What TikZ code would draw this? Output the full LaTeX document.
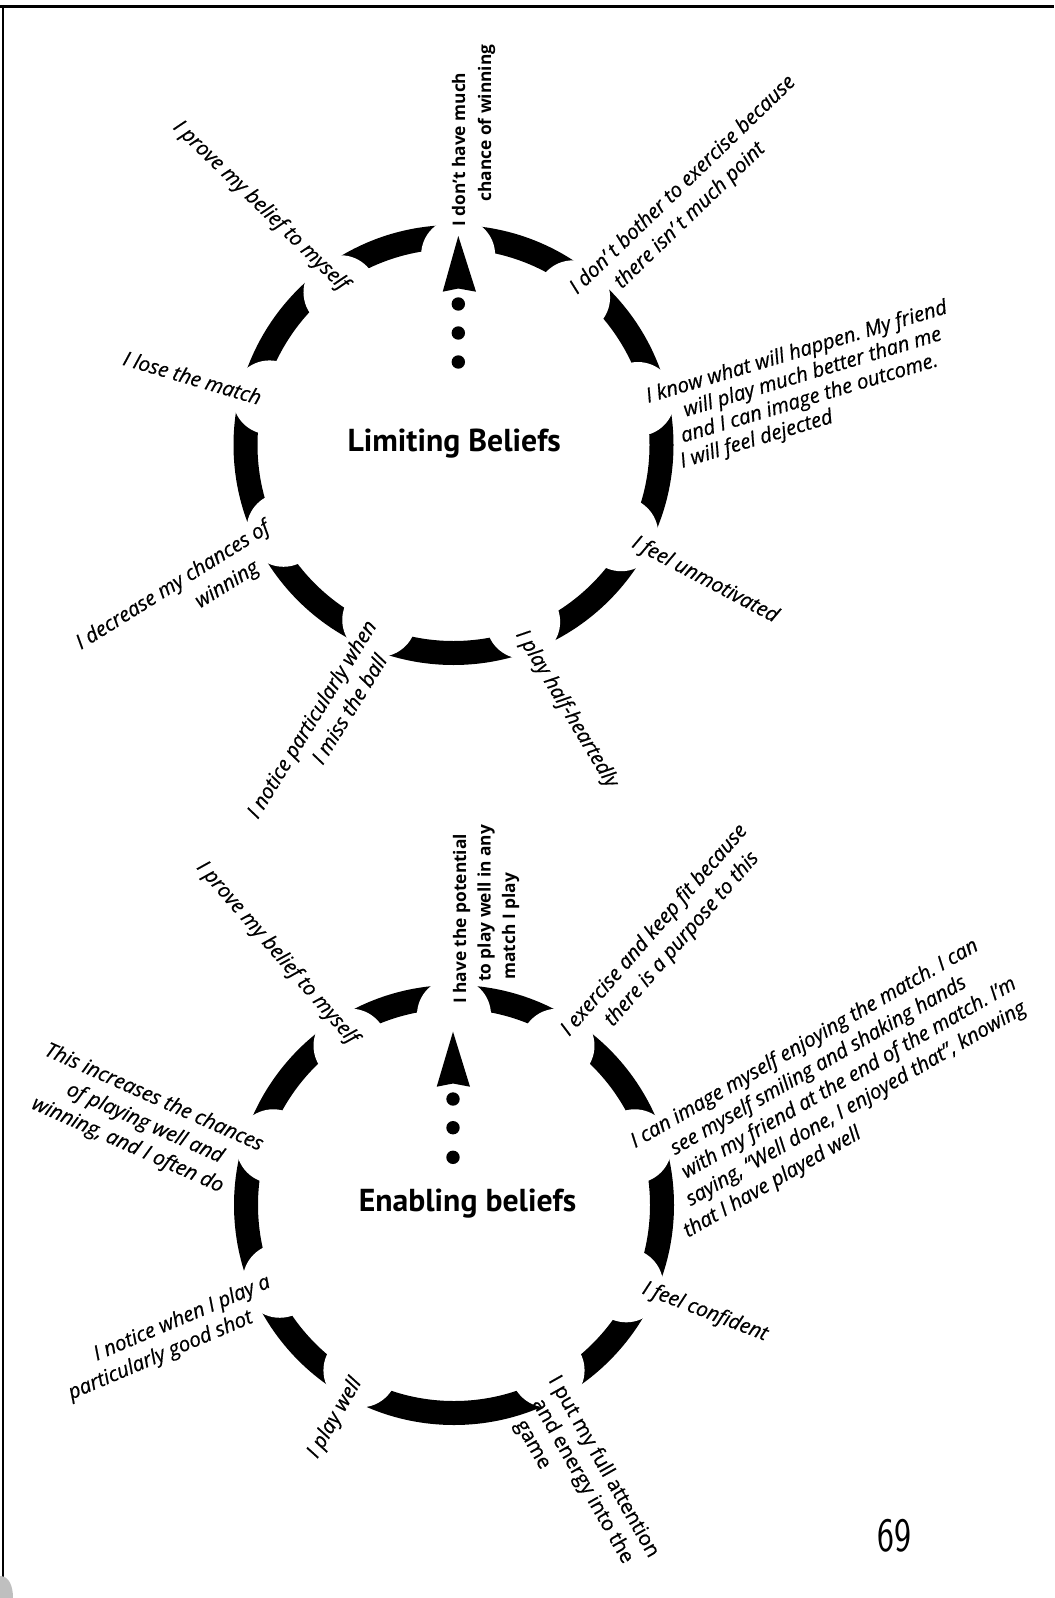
\documentclass[tikz,border=0pt]{standalone}
\usepackage{fontspec}
\usepackage{graphicx}
\usetikzlibrary{calc}
\newfontfamily\opensans{Open Sans}
\newfontfamily\labfont{Open Sans}[FakeBold=0.6]
\newfontfamily\ptsans{PT Sans}
\newdimen\pxu \pxu=0.75pt
\newcommand\labrows[1]{\begin{tabular}[t]{@{}l@{}}#1\end{tabular}}
\newcommand\indpx[1]{\hspace*{#1\pxu}}
\tikzset{
  ringband/.style={fill=black, even odd rule},
  gapcut/.style={fill=white},
  pointer/.style={fill=black},
  lbl/.style={font=\labfont\itshape\fontsize{15.3pt}{#1}\selectfont, inner sep=0pt, anchor=base west},
  lbl/.default=19.5pt,
  uplbl/.style={font=\labfont\fontsize{15.3pt}{#1}\selectfont, inner sep=0pt, anchor=base west},
  lblone/.style={font=\labfont\itshape\fontsize{15.3pt}{18pt}\selectfont, inner sep=0pt, anchor=center},
  keylbl/.style={font=\opensans\bfseries\fontsize{13pt}{#1}\selectfont, inner sep=0pt, anchor=base west},
  titlelbl/.style={font=\ptsans\bfseries\fontsize{23.8pt}{28pt}\selectfont, inner sep=0pt, anchor=base},
  pagenum/.style={font=\sffamily\fontsize{36pt}{40pt}\selectfont, inner sep=0pt},
}
\begin{document}
\frenchspacing
\begin{tikzpicture}[x=0.75pt,y=-0.75pt]
\fill[white] (0,0) rectangle (1054,1598);
\useasboundingbox (0,0) rectangle (1054,1598);

% page rules
\draw[line width=3.5\pxu] (0,6.5) -- (1054,6.5);
\draw[line width=2\pxu] (2.5,5) -- (2.5,1580);
\fill[gray!50] (0,1598) -- (0,1576) .. controls (9,1576) and (13,1586) .. (13,1598) -- cycle;

% ---------- upper cycle ----------
\coordinate (limC) at (453.5,445);
\fill[ringband] (limC) circle[radius=220] (limC) circle[radius=196];
\foreach \a in {88.6,51,14,-28,-68.5,-113,-153.5,165.5,126.5}
  \fill[gapcut] ($(limC)+({190*cos(\a)},{-190*sin(\a)})$) circle[radius=37];
\fill[pointer] (458.3,236) -- (476,291.7) -- (458.3,288.5) -- (442.7,291.7) -- cycle;
\foreach \y in {304,333,362}
  \fill[pointer] (458.3,\y) circle[radius=6.7];

\node[titlelbl] (limTitle) at (454.2,451.7) {Limiting Beliefs};

\node[keylbl=19.5pt, rotate=90] (limTop) at (465,227)
  {\labrows{I don’t have much\\\indpx{25}chance of winning}};
\node[lblone, rotate=-44] (limProve) at (260.5,206) {I prove my belief to myself};
\node[lblone, rotate=-16.4] (limLose) at (192.5,377.5) {I lose the match};
\node[lbl=18pt, rotate=16.7] (limKnow) at (648,403)
  {\labrows{I know what will happen. My friend\\\indpx{32}will play much better than me\\\indpx{22}and I can image the outcome.\\\indpx{14}I will feel dejected}};
\node[lbl=20.25pt, rotate=44] (limBother) at (577,295)
  {\labrows{I don’\hspace{0.2em}t bother to exercise because\\\indpx{36}there isn’\hspace{0.2em}t much point}};
\node[lblone, rotate=-28] (limUnmot) at (705,580) {I feel unmotivated};
\node[lblone, rotate=-59] (limHalf) at (566.5,709) {I play half-heartedly};
\node[lbl=20.25pt, rotate=58.4] (limNotice) at (257.7,820)
  {\labrows{I notice particularly when\\\indpx{80}I miss the ball}};
\node[lbl=21pt, rotate=32] (limDecrease) at (80.8,650)
  {\labrows{I decrease my chances of\\\indpx{123}winning}};

% ---------- lower cycle ----------
\coordinate (enC) at (454,1205);
\fill[ringband] (enC) circle[radius=220] (enC) circle[radius=196];
\foreach \a in {90,57,18,-25,-60.5,-119.5,-156.5,162,123}
  \fill[gapcut] ($(enC)+({190*cos(\a)},{-190*sin(\a)})$) circle[radius=37];
\fill[pointer] (453,1031.7) -- (470,1086.7) -- (453,1083.5) -- (436.7,1086.7) -- cycle;
\foreach \y in {1099,1127.7,1157.3}
  \fill[pointer] (453,\y) circle[radius=6.7];

\node[titlelbl] (enTitle) at (467.5,1211.7) {Enabling beliefs};

\node[keylbl=18.4pt, rotate=90] (enTop) at (466,1004)
  {\labrows{I have the potential\\\indpx{22}to play well in any\\\indpx{24}match I play}};
\node[lblone, rotate=-49] (enProve) at (277,953) {I prove my belief to myself};
\node[lbl=20pt, rotate=49] (enExercise) at (569,1037)
  {\labrows{I exercise and keep fit because\\\indpx{36}there is a purpose to this}};
\node[lbl=19.5pt, rotate=30] (enImage) at (635,1148.3)
  {\labrows{I can image myself enjoying the match. I can\\\indpx{31}see myself smiling and shaking hands\\\indpx{29}with my friend at the end of the match. I’m\\\indpx{19}saying, “Well done, I enjoyed that”, knowing\\\indpx{1}that I have played well}};
\node[lbl=20.25pt, rotate=-24] (enIncrease) at (43.3,1054.7)
  {\labrows{This increases the chances\\\indpx{36}of playing well and\\\indpx{10}winning, and I often do}};
\node[lblone, rotate=-21] (enConfident) at (705,1312) {I feel confident};
\node[uplbl=19pt, rotate=-60.5] (enAttention) at (548,1380)
  {\labrows{I put my full attention\\\indpx{12}and energy into the\\\indpx{22}game}};
\node[lblone, rotate=60] (enPlayWell) at (335,1418) {I play well};
\node[lbl=19.3pt, rotate=23] (enGoodShot) at (61.3,1375.9)
  {\labrows{\indpx{38.5}I notice when I play a\\particularly good shot}};

\node[pagenum] (pageNo) at (894,1536) {\scalebox{0.75}[1]{69}};
\end{tikzpicture}
\end{document}
